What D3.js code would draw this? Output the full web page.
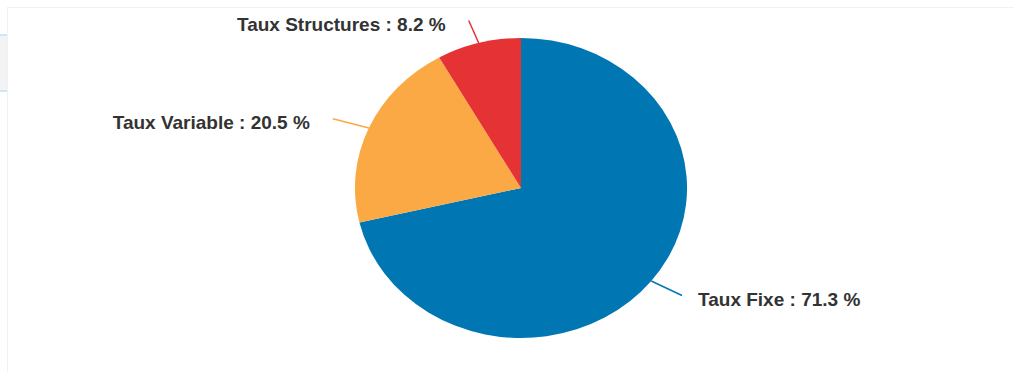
<!DOCTYPE html>
<html>
<head>
<meta charset="utf-8">
<script src="https://cdn.jsdelivr.net/npm/d3@7"></script>
<style>
  body { margin: 0; background: #fff; }
  svg { display: block; }
</style>
</head>
<body>
<svg id="chart" width="1014" height="372"></svg>
<script>
const labels = ['Taux Fixe', 'Taux Variable', 'Taux Structures'];
const values = [71.3, 20.5, 8.2];
const colors = ['#0077b3', '#fba945', '#e53234'];

const width = 1014, height = 372;
const center = {x: 521, y: 188};
const radius = 150;
const stretch = 1.107;      // the pie is a bit wider than tall in the shot
const labelStretch = 1.185; // labels sit on a wider ellipse

const svg = d3.select('#chart');

// page frame bits around the chart
svg.append('line')
  .attr('x1', 8).attr('y1', 7.5).attr('x2', width).attr('y2', 7.5)
  .attr('stroke', '#f1f1f1');
svg.append('line')
  .attr('x1', 7.5).attr('y1', 7).attr('x2', 7.5).attr('y2', height)
  .attr('stroke', '#f1f1f1');
svg.append('rect')
  .attr('x', 0).attr('y', 34).attr('width', 7).attr('height', 58)
  .attr('fill', '#f3f3f3');
svg.append('rect').attr('x', 0).attr('y', 34).attr('width', 7).attr('height', 2).attr('fill', '#cfe6f3');
svg.append('rect').attr('x', 0).attr('y', 90).attr('width', 7).attr('height', 2).attr('fill', '#cfe6f3');

const data = labels.map((l, i) => ({label: l, value: values[i], color: colors[i]}));

const pie = d3.pie().sort(null).value(d => d.value);
const arcs = pie(data);

const arc = d3.arc().innerRadius(0).outerRadius(radius);
const edgeArc = d3.arc().innerRadius(radius).outerRadius(radius);
const outerArc = d3.arc().innerRadius(radius * 1.155).outerRadius(radius * 1.155);

const pieG = svg.append('g')
  .attr('transform', `translate(${center.x},${center.y}) scale(${stretch},1)`);

pieG.selectAll('path.slice')
  .data(arcs)
  .enter().append('path')
  .attr('class', 'slice')
  .attr('d', arc)
  .attr('fill', d => d.data.color);

const labelG = svg.append('g')
  .attr('transform', `translate(${center.x},${center.y})`);

const edgePt = d => { const p = edgeArc.centroid(d); return [p[0] * stretch, p[1]]; };
const endPt = d => { const p = outerArc.centroid(d); return [p[0] * labelStretch, p[1]]; };
const rightSide = d => (d.startAngle + d.endAngle) / 2 < Math.PI;

labelG.selectAll('line.connector')
  .data(arcs)
  .enter().append('line')
  .attr('class', 'connector')
  .attr('x1', d => edgePt(d)[0])
  .attr('y1', d => edgePt(d)[1])
  .attr('x2', d => endPt(d)[0])
  .attr('y2', d => endPt(d)[1])
  .attr('stroke', d => d.data.color)
  .attr('stroke-width', 1.5);

labelG.selectAll('text.label')
  .data(arcs)
  .enter().append('text')
  .attr('class', 'label')
  .attr('x', d => endPt(d)[0] + (rightSide(d) ? 16 : -23))
  .attr('y', d => endPt(d)[1] + 4)
  .attr('dy', '0.35em')
  .attr('text-anchor', d => rightSide(d) ? 'start' : 'end')
  .attr('font-family', 'Liberation Sans, Arial, sans-serif')
  .attr('font-size', 19)
  .attr('font-weight', 'bold')
  .attr('fill', '#333')
  .text(d => `${d.data.label} : ${d.data.value} %`);
</script>
</body>
</html>
